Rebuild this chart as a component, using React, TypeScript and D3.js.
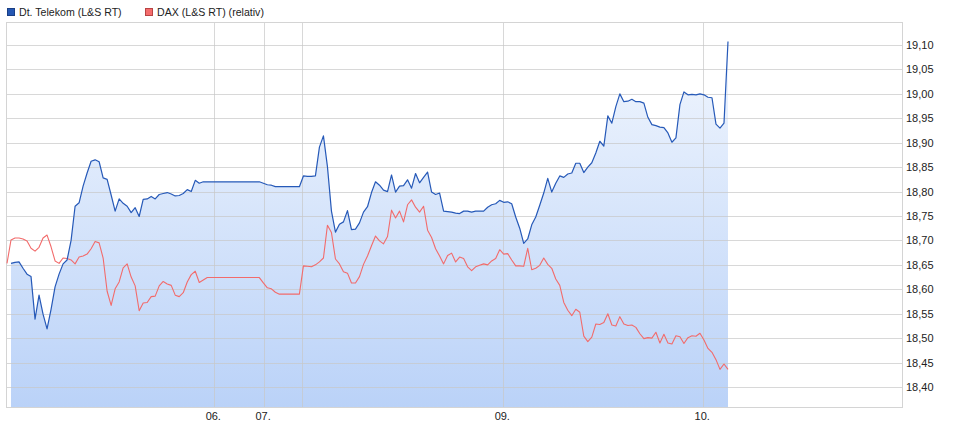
import * as d3 from "d3";

// Dt. Telekom (L&S RT), evenly spaced intraday samples
const telekom = [
  18.653, 18.655, 18.656, 18.643, 18.631, 18.626, 18.539, 18.588, 18.549, 18.519,
  18.559, 18.605, 18.631, 18.652, 18.66, 18.7, 18.77, 18.777, 18.811, 18.838,
  18.862, 18.865, 18.861, 18.828, 18.825, 18.793, 18.76, 18.785, 18.776, 18.77,
  18.757, 18.767, 18.749, 18.784, 18.785, 18.79, 18.785, 18.794, 18.796, 18.798,
  18.795, 18.791, 18.792, 18.796, 18.804, 18.8, 18.823, 18.817, 18.82, 18.82,
  18.82, 18.82, 18.82, 18.82, 18.82, 18.82, 18.82, 18.82, 18.82, 18.82,
  18.82, 18.82, 18.82, 18.817, 18.814, 18.813, 18.81, 18.81, 18.81, 18.81,
  18.81, 18.81, 18.81, 18.832, 18.831, 18.831, 18.832, 18.891, 18.914, 18.851,
  18.76, 18.717, 18.733, 18.738, 18.761, 18.722, 18.723, 18.736, 18.758, 18.769,
  18.798, 18.82, 18.813, 18.803, 18.8, 18.834, 18.799, 18.811, 18.812, 18.824,
  18.807, 18.837, 18.818, 18.829, 18.84, 18.799, 18.794, 18.797, 18.76, 18.759,
  18.758, 18.756, 18.755, 18.76, 18.76, 18.758, 18.76, 18.76, 18.76, 18.768,
  18.773, 18.775, 18.782, 18.778, 18.779, 18.775, 18.748, 18.725, 18.694, 18.703,
  18.732, 18.748, 18.772, 18.797, 18.827, 18.799, 18.817, 18.832, 18.829, 18.836,
  18.838, 18.858, 18.858, 18.839, 18.85, 18.859, 18.879, 18.903, 18.893, 18.955,
  18.94, 18.974, 19.0, 18.984, 18.985, 18.989, 18.984, 18.984, 18.981, 18.952,
  18.937, 18.935, 18.932, 18.931, 18.92, 18.901, 18.91, 18.978, 19.004, 18.998,
  18.999, 18.998, 19.0, 18.998, 18.993, 18.992, 18.938, 18.93, 18.94, 19.107,
];

// DAX (L&S RT) relative to Telekom; first value is the reference point one step before the first sample
const dax = [
  18.653,
  18.701, 18.705, 18.705, 18.703, 18.699, 18.684, 18.678, 18.686, 18.705, 18.711,
  18.687, 18.658, 18.653, 18.664, 18.663, 18.66, 18.652, 18.666, 18.668, 18.672,
  18.683, 18.698, 18.695, 18.664, 18.596, 18.567, 18.601, 18.615, 18.644, 18.652,
  18.625, 18.607, 18.556, 18.572, 18.573, 18.585, 18.586, 18.607, 18.616, 18.611,
  18.608, 18.588, 18.585, 18.593, 18.615, 18.63, 18.637, 18.614, 18.619, 18.624,
  18.624, 18.624, 18.624, 18.624, 18.624, 18.624, 18.624, 18.624, 18.624, 18.624,
  18.624, 18.624, 18.624, 18.613, 18.603, 18.601, 18.594, 18.59, 18.59, 18.59,
  18.59, 18.59, 18.59, 18.648, 18.647, 18.646, 18.65, 18.656, 18.664, 18.731,
  18.716, 18.662, 18.652, 18.636, 18.633, 18.613, 18.613, 18.626, 18.651, 18.668,
  18.689, 18.709, 18.699, 18.693, 18.708, 18.762, 18.746, 18.76, 18.738, 18.773,
  18.783, 18.768, 18.758, 18.77, 18.721, 18.706, 18.683, 18.668, 18.652, 18.669,
  18.674, 18.656, 18.666, 18.663, 18.646, 18.638, 18.646, 18.649, 18.652, 18.65,
  18.658, 18.663, 18.681, 18.672, 18.673, 18.66, 18.648, 18.648, 18.647, 18.684,
  18.64, 18.643, 18.649, 18.664, 18.651, 18.643, 18.621, 18.608, 18.573, 18.557,
  18.546, 18.559, 18.553, 18.504, 18.493, 18.502, 18.529, 18.528, 18.532, 18.55,
  18.527, 18.525, 18.544, 18.529, 18.526, 18.527, 18.522, 18.509, 18.499, 18.501,
  18.5, 18.512, 18.49, 18.508, 18.49, 18.488, 18.505, 18.503, 18.489, 18.501,
  18.505, 18.504, 18.51, 18.496, 18.479, 18.471, 18.456, 18.436, 18.447, 18.436,
];

const yTicks = [18.4, 18.45, 18.5, 18.55, 18.6, 18.65, 18.7, 18.75, 18.8, 18.85, 18.9, 18.95, 19.0, 19.05, 19.1];

// positions in sample steps
const xTicks = [
  { at: 50.75, label: "06." },
  { at: 63.2, label: "07." },
  { at: 72.7, label: "" },
  { at: 122.9, label: "09." },
  { at: 172.8, label: "10." },
];

const seriesNames = ["Dt. Telekom (L&S RT)", "DAX (L&S RT) (relativ)"];

const width = 961;
const height = 425;
const plotLeft = 6.5;
const plotRight = 902.5;
const plotTop = 22.5;
const plotBottom = 407.5;

const fmt = d3.formatLocale({ decimal: ",", thousands: ".", grouping: [3], currency: ["", "€"] }).format(".2f");

function App() {
  const x = d3.scaleLinear().domain([0, telekom.length - 1]).range([11, 728]);
  const y = d3.scaleLinear().domain([18.4, 19.1]).range([387, 45]);

  const line = d3
    .line<number>()
    .x((_, i) => x(i))
    .y((d) => y(d));
  const daxLine = d3
    .line<number>()
    .x((_, i) => x(i - 1))
    .y((d) => y(d));
  const area = d3
    .area<number>()
    .x((_, i) => x(i))
    .y0(plotBottom)
    .y1((d) => y(d));

  const font = "'Liberation Sans', Arial, sans-serif";

  return (
    <svg
      width={width}
      height={height}
      style={{ position: "absolute", left: 0, top: 0, background: "#fff" }}
      fontFamily={font}
    >
      <defs>
        <linearGradient id="fill" gradientUnits="userSpaceOnUse" x1={0} y1={plotTop} x2={0} y2={plotBottom}>
          <stop offset="0%" stopColor="#f4f8fe" />
          <stop offset="100%" stopColor="#bad2f8" />
        </linearGradient>
      </defs>

      {/* legend */}
      <g fontSize={10.6} fill="#222">
        <rect x={7.5} y={8.5} width={7} height={7} fill="#2457b3" stroke="#1a3f85" />
        <text x={19} y={16}>{seriesNames[0]}</text>
        <rect x={145.5} y={8.5} width={7} height={7} fill="#f46c6c" stroke="#b84444" />
        <text x={157} y={16}>{seriesNames[1]}</text>
      </g>

      <path d={area(telekom) ?? ""} fill="url(#fill)" />

      {/* grid */}
      <g stroke="#c8c8c8" strokeOpacity={0.7} strokeWidth={1}>
        {yTicks.map((t) => (
          <line key={t} x1={plotLeft} x2={plotRight} y1={Math.round(y(t)) + 0.5} y2={Math.round(y(t)) + 0.5} />
        ))}
        {xTicks.map((t) => (
          <line key={t.at} x1={Math.round(x(t.at)) + 0.5} x2={Math.round(x(t.at)) + 0.5} y1={plotTop} y2={plotBottom} />
        ))}
      </g>
      <rect
        x={plotLeft}
        y={plotTop}
        width={plotRight - plotLeft}
        height={plotBottom - plotTop}
        fill="none"
        stroke="#d4d4d4"
      />

      <path d={daxLine(dax) ?? ""} fill="none" stroke="#f26b6b" strokeWidth={1.1} strokeLinejoin="round" />
      <path d={line(telekom) ?? ""} fill="none" stroke="#2659b8" strokeWidth={1.2} strokeLinejoin="round" />

      {/* y axis labels */}
      <g fontSize={11} fill="#222">
        {yTicks.map((t) => (
          <text key={t} x={906} y={y(t) + 4}>
            {fmt(t)}
          </text>
        ))}
      </g>

      {/* x axis labels */}
      <g fontSize={11} fill="#222" textAnchor="middle">
        {xTicks.map((t) =>
          t.label ? (
            <text key={t.at} x={x(t.at) - 1} y={420}>
              {t.label}
            </text>
          ) : null
        )}
      </g>
    </svg>
  );
}

export default App;
